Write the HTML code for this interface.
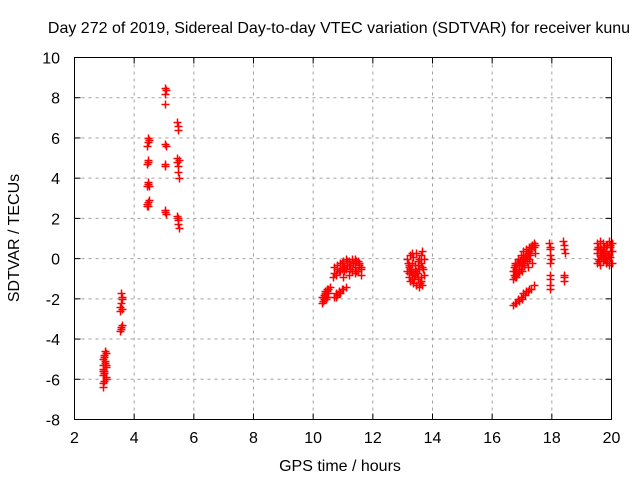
<!DOCTYPE html>
<html><head><meta charset="utf-8"><style>
body{margin:0;background:#fff}
svg text{font-family:"Liberation Sans",sans-serif;font-size:16px;fill:#000}
</style></head><body>
<svg id="c" width="640" height="480" xmlns="http://www.w3.org/2000/svg">
<rect width="640" height="480" fill="#fff"/>
<text x="339" y="33" text-anchor="middle">Day 272 of 2019, Sidereal Day-to-day VTEC variation (SDTVAR) for receiver kunu</text>
<text x="340" y="471" text-anchor="middle">GPS time / hours</text>
<text transform="translate(19,238) rotate(-90)" text-anchor="middle">SDTVAR / TECUs</text>
<g id="grid"></g><g id="ticks"></g><g id="pts"></g>
<rect x="74.5" y="57.5" width="537" height="362" fill="none" stroke="#000"/>
</svg>
<script>
const xTicks=[2,4,6,8,10,12,14,16,18,20];
const yTicks=[-8,-6,-4,-2,0,2,4,6,8,10];
const times=[2.95,3.0,3.05,2.95,3.0,3.05,2.97,3.02,2.95,3.0,3.05,2.98,3.03,2.96,3.0,3.04,2.97,3.02,2.95,3.05,
3.52,3.56,3.6,3.54,3.58,3.55,3.6,3.52,3.57,3.55,3.58,
4.42,4.46,4.5,4.44,4.48,4.42,4.47,4.45,4.5,4.43,4.48,4.46,4.44,4.5,4.47,4.45,
5.02,5.06,5.04,5.05,5.02,5.07,5.04,5.05,5.03,5.06,5.05,
5.42,5.46,5.48,5.44,5.5,5.45,5.47,5.48,5.49,5.42,5.46,5.48,5.5,5.47,
10.3,10.35,10.4,10.45,10.5,10.55,10.3,10.38,10.45,10.5,10.32,10.42,10.35,10.4,10.48,
10.7,10.8,10.9,11.0,11.1,10.75,10.85,10.95,10.78,10.88,
10.65,10.75,10.85,10.95,11.05,11.15,11.25,11.35,11.45,11.55,10.7,10.8,10.9,11.0,11.1,11.2,11.3,11.4,11.5,11.6,10.7,10.9,11.1,11.3,11.5,11.0,11.2,11.4,11.6,10.8,11.0,11.2,11.4,11.6,10.95,11.15,11.35,11.55,11.05,11.25,11.45,
13.15,13.25,13.35,13.45,13.55,13.65,13.2,13.3,13.4,13.5,13.6,13.7,13.15,13.25,13.35,13.45,13.55,13.65,13.2,13.3,13.4,13.5,13.6,13.7,13.25,13.35,13.45,13.55,13.65,13.3,13.6,13.2,13.5,13.22,13.32,13.42,13.52,13.62,13.18,13.28,13.38,13.48,13.58,13.68,
16.7,16.75,16.8,16.85,16.9,16.95,17.0,17.05,17.1,17.15,17.2,17.25,17.3,17.35,17.4,17.45,16.7,16.8,16.9,17.0,17.1,17.2,17.3,17.4,16.75,16.85,16.95,17.05,17.15,17.25,17.35,16.72,16.82,16.92,17.02,17.12,17.22,17.32,17.42,16.8,17.0,17.2,16.72,16.78,16.88,16.98,17.08,17.18,17.28,16.75,16.9,17.05,
16.7,16.8,16.9,17.0,17.1,17.2,17.3,17.4,16.75,16.85,16.95,17.05,17.15,17.25,
17.92,17.95,17.93,17.96,17.94,17.95,17.93,17.95,17.94,17.93,
18.38,18.42,18.4,18.43,18.4,18.42,18.41,
19.5,19.6,19.7,19.8,19.9,20.0,19.55,19.65,19.75,19.85,19.95,19.5,19.6,19.7,19.8,19.9,20.0,19.55,19.65,19.75,19.85,19.95,19.5,19.6,19.7,19.8,19.9,20.0,19.55,19.75,19.95,19.52,19.62,19.72,19.82,19.92,19.57,19.67,19.77,19.87,19.97];
const values=[-6.4,-6.1,-5.9,-5.8,-5.6,-5.4,-5.3,-5.1,-5.0,-4.9,-4.7,-4.8,-4.6,-5.5,-5.7,-6.0,-6.2,-5.2,-5.6,-5.3,
-3.6,-3.4,-3.3,-2.6,-2.5,-2.2,-1.9,-2.4,-1.7,-3.5,-2.0,
2.6,2.8,2.9,2.7,2.6,3.6,3.7,3.8,3.6,4.7,4.8,4.9,5.6,5.9,6.0,5.8,
8.5,8.4,8.2,7.7,5.7,5.6,4.7,4.6,2.4,2.2,2.3,
6.8,6.6,6.4,5.0,4.9,4.8,4.6,4.3,4.0,2.1,1.9,1.7,1.5,2.0,
-2.2,-2.0,-1.8,-1.6,-1.5,-1.4,-1.9,-1.7,-1.9,-1.7,-2.1,-2.0,-1.8,-1.6,-1.5,
-1.9,-1.8,-1.7,-1.5,-1.4,-1.7,-1.6,-1.5,-1.9,-1.7,
-0.9,-0.8,-0.6,-0.5,-0.4,-0.3,-0.3,-0.2,-0.1,-0.2,-0.4,-0.3,-0.2,-0.1,0.0,-0.1,0.0,0.0,-0.1,-0.4,-0.7,-0.6,-0.5,-0.6,-0.6,-0.9,-0.8,-0.7,-0.8,-0.5,-0.4,-0.3,-0.4,-0.5,-0.2,-0.1,-0.2,-0.3,-0.6,-0.5,-0.6,
0.0,0.2,0.1,0.3,0.0,0.4,-0.3,-0.2,-0.3,-0.1,-0.2,0.0,-0.6,-0.5,-0.7,-0.6,-0.5,-0.4,-0.9,-1.0,-0.8,-0.9,-1.1,-0.8,-1.1,-1.2,-1.3,-1.4,-1.3,0.3,0.2,-0.7,-1.0,-0.4,-0.8,-0.5,-0.3,-0.9,-0.2,-0.6,-1.0,-0.7,-1.2,-0.5,
-1.0,-0.9,-0.8,-0.7,-0.6,-0.5,-0.3,-0.2,0.0,0.2,0.3,0.4,0.6,0.7,0.8,0.7,-0.6,-0.5,-0.3,-0.1,0.1,0.3,0.5,0.6,-0.2,0.0,0.2,0.4,0.5,0.6,0.7,-0.4,-0.2,-0.1,0.0,0.1,0.0,-0.2,0.3,-0.9,-0.6,-0.4,-0.8,-0.6,-0.7,-0.5,-0.3,-0.1,0.2,-0.3,-0.2,0.1,
-2.3,-2.2,-2.1,-2.0,-1.8,-1.6,-1.5,-1.3,-2.2,-2.0,-1.9,-1.7,-1.6,-1.5,
0.8,0.5,0.2,0.0,-0.2,-0.8,-1.0,-1.3,-1.5,0.6,
0.9,0.7,0.5,0.3,-0.8,-0.9,-1.1,
0.8,0.9,0.8,0.7,0.9,0.8,0.6,0.5,0.6,0.7,0.6,0.3,0.2,0.4,0.3,0.2,0.4,0.0,0.1,0.0,-0.1,0.1,-0.2,-0.3,-0.1,-0.2,-0.3,-0.2,0.5,0.3,0.7,0.5,0.6,0.2,0.4,0.1,-0.1,0.3,0.0,0.2,0.4];
const NS='http://www.w3.org/2000/svg';
const X0=74.5,X1=611.5,Y0=419.5,Y1=57.5;
function xs(t){return X0+(t-2)/18*(X1-X0);}
function ys(v){return Y0-(v+8)/18*(Y0-Y1);}
function mk(tag,a){const e=document.createElementNS(NS,tag);for(const k in a)e.setAttribute(k,a[k]);return e;}
const grid=document.getElementById('grid'),ticks=document.getElementById('ticks'),pts=document.getElementById('pts');
xTicks.forEach(t=>{const x=xs(t);
 if(t>2&&t<20){const g=mk('line',{x1:x,x2:x,y1:Y1,y2:Y0,stroke:'#a0a0a0','stroke-dasharray':'3,4'});
 
 grid.appendChild(g);}
 ticks.appendChild(mk('line',{x1:x,x2:x,y1:Y0,y2:Y0-6,stroke:'#000'}));
 ticks.appendChild(mk('line',{x1:x,x2:x,y1:Y1,y2:Y1+6,stroke:'#000'}));
 const tx=mk('text',{x:x,y:443,'text-anchor':'middle'});tx.textContent=t;
 
 ticks.appendChild(tx);});
yTicks.forEach(v=>{const y=ys(v);
 if(v>-8&&v<10){const g=mk('line',{x1:X0,x2:X1,y1:y,y2:y,stroke:'#a0a0a0','stroke-dasharray':'3,4'});
 
 grid.appendChild(g);}
 ticks.appendChild(mk('line',{x1:X0,x2:X0+6,y1:y,y2:y,stroke:'#000'}));
 ticks.appendChild(mk('line',{x1:X1,x2:X1-6,y1:y,y2:y,stroke:'#000'}));
 const tx=mk('text',{x:60,y:y+6,'text-anchor':'end'});tx.textContent=v;
 
 ticks.appendChild(tx);});
times.forEach((t,i)=>{const x=Math.round(xs(t))+0.5,y=Math.round(ys(values[i]))+0.5;
 const p=mk('path',{d:`M${x-4},${y}H${x+4}M${x},${y-4}V${y+4}`,stroke:'#f00','stroke-width':1.5,fill:'none'});
 
 pts.appendChild(p);});
</script>
</body></html>
